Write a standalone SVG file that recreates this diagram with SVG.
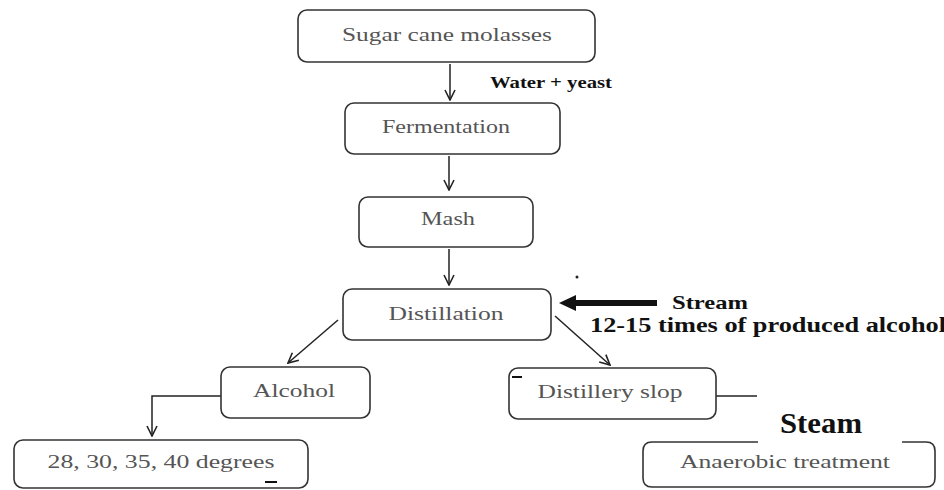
<svg xmlns="http://www.w3.org/2000/svg" width="944" height="490" viewBox="0 0 944 490">
<defs>
<style>
.box{fill:#fff;stroke:#333;stroke-width:1.6}
.t{font-family:"Liberation Serif","Times New Roman",serif;font-size:18px;fill:#555;text-anchor:middle}
.b{font-family:"Liberation Serif","Times New Roman",serif;font-weight:bold;fill:#111}
.c{fill:none;stroke:#222;stroke-width:1.5}
</style>
<marker id="ah" viewBox="0 0 12 12" refX="11" refY="6" markerWidth="12" markerHeight="12" markerUnits="userSpaceOnUse" orient="auto">
<polyline points="1,1 11,6 1,11" fill="none" stroke="#222" stroke-width="1.6"/>
</marker>
</defs>
<rect width="944" height="490" fill="#fff"/>
<g id="connectors">
<line class="c" x1="450" y1="64" x2="450" y2="100" marker-end="url(#ah)"/>
<line class="c" x1="449" y1="156" x2="449" y2="190" marker-end="url(#ah)"/>
<line class="c" x1="449" y1="249" x2="449" y2="285" marker-end="url(#ah)"/>
<line class="c" x1="338" y1="320" x2="288" y2="363" marker-end="url(#ah)"/>
<line class="c" x1="555" y1="316" x2="610" y2="365" marker-end="url(#ah)"/>
<polyline class="c" points="221,396 152,396 152,436" marker-end="url(#ah)"/>
<line class="c" x1="716" y1="396" x2="757" y2="396"/>
<line x1="657" y1="303" x2="572" y2="303" stroke="#111" stroke-width="6"/>
<polygon points="559,303 576,295 576,311" fill="#111"/>
</g>
<g id="n1"><rect class="box" x="298" y="10" width="297" height="52" rx="9"/><text class="t" x="447" y="41" textLength="210" lengthAdjust="spacingAndGlyphs">Sugar cane molasses</text></g>
<g id="n2"><rect class="box" x="345" y="103" width="215" height="51" rx="9"/><text class="t" x="446" y="133" font-size="19" textLength="128" lengthAdjust="spacingAndGlyphs">Fermentation</text></g>
<g id="n3"><rect class="box" x="359" y="197" width="174" height="50" rx="9"/><text class="t" x="448" y="225" textLength="54" lengthAdjust="spacingAndGlyphs">Mash</text></g>
<g id="n4"><rect class="box" x="343" y="289" width="208" height="51" rx="9"/><text class="t" x="446" y="320" font-size="19" textLength="115" lengthAdjust="spacingAndGlyphs">Distillation</text></g>
<g id="n5"><rect class="box" x="221" y="367" width="149" height="51" rx="9"/><text class="t" x="294" y="397" textLength="82" lengthAdjust="spacingAndGlyphs">Alcohol</text></g>
<g id="n6"><rect class="box" x="509" y="368" width="207" height="51" rx="9"/><text class="t" x="610" y="398" textLength="145" lengthAdjust="spacingAndGlyphs">Distillery slop</text><line x1="512" y1="377" x2="522" y2="377" stroke="#111" stroke-width="2"/></g>
<g id="n7"><rect class="box" x="14" y="440" width="294" height="48" rx="9"/><text class="t" x="161" y="468" textLength="227" lengthAdjust="spacingAndGlyphs">28, 30, 35, 40 degrees</text><line x1="265" y1="482" x2="277" y2="482" stroke="#111" stroke-width="2"/></g>
<g id="n8"><path class="box" d="M758,442 H652 Q643,442 643,451 V478 Q643,487 652,487 H926 Q935,487 935,478 V451 Q935,442 926,442 H902"/><text class="t" x="785" y="468" textLength="210" lengthAdjust="spacingAndGlyphs">Anaerobic treatment</text></g>
<g id="labels">
<text class="b" x="490" y="88" font-size="16" textLength="122" lengthAdjust="spacingAndGlyphs">Water + yeast</text>
<text class="b" x="672" y="309" font-size="19" textLength="76" lengthAdjust="spacingAndGlyphs">Stream</text>
<text class="b" x="590" y="332" font-size="20" textLength="356" lengthAdjust="spacingAndGlyphs">12-15 times of produced alcohol</text>
<text class="b" x="780" y="433" font-size="30" textLength="82" lengthAdjust="spacingAndGlyphs">Steam</text>
<circle cx="577" cy="277" r="1.5" fill="#222"/>
</g>
</svg>
